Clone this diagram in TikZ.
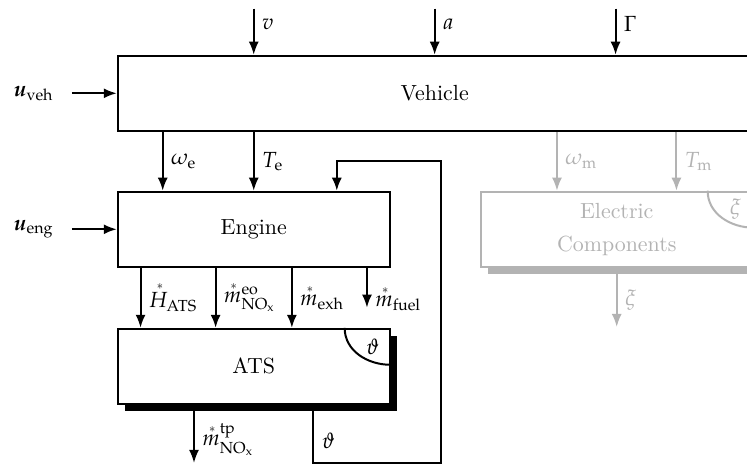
\documentclass[tikz,border=0pt,11pt]{standalone}
\usepackage{amsmath,amssymb}
\usepackage{accents}
\usepackage{mathpazo}
\usepackage{tikz}
\usetikzlibrary{arrows.meta,shadows}
\definecolor{elecgray}{RGB}{179,179,179}

\begin{document}
\begin{tikzpicture}[
    block/.style={draw,line width=1pt,fill=white,minimum width=4.78cm,minimum height=1.32cm},
    stateblock/.style={block,drop shadow={shadow xshift=0.13cm,shadow yshift=-0.13cm,opacity=1,fill=#1}},
    sig/.style={line width=1pt,-{Latex[length=6.5pt,width=5pt]}},
    wire/.style={line width=1pt}]
  \useasboundingbox (0,0) rectangle (13.13,8.15);
  \clip (0,0) rectangle (13.13,8.15);
  % blocks
  \node[draw,line width=1pt,minimum width=11.14cm,minimum height=1.32cm] (veh) at (7.64,6.51) {Vehicle};
  \node[block] (eng) at (4.46,4.12) {Engine};
  \node[stateblock=black] (ats) at (4.46,1.71) {ATS};
  \node[stateblock=elecgray,draw=elecgray,text=elecgray,align=center] (elec) at (10.84,4.12)
    {Electric\\[3pt]Components};
  % states in the corners
  \draw[wire] ([xshift=-0.81cm]ats.north east) to[out=-90,in=180] ([yshift=-0.65cm]ats.north east);
  \node (thetastate) at ([xshift=-0.32cm,yshift=-0.33cm]ats.north east) {$\vartheta$};
  \draw[wire,elecgray] ([xshift=-0.81cm]elec.north east) to[out=-90,in=180] ([yshift=-0.65cm]elec.north east);
  \node[elecgray] (xistate) at ([xshift=-0.32cm,yshift=-0.33cm]elec.north east) {$\xi$};
  % free ends
  \coordinate (vin) at ([xshift=-3.18cm,yshift=0.81cm]veh.north);
  \coordinate (ain) at ([yshift=0.81cm]veh.north);
  \coordinate (gammain) at ([xshift=3.18cm,yshift=0.81cm]veh.north);
  \coordinate (uvehin) at ([xshift=-0.79cm]veh.west);
  \coordinate (uengin) at ([xshift=-0.79cm]eng.west);
  \coordinate (fuelout) at ([xshift=1.99cm,yshift=-0.70cm]eng.south);
  \coordinate (tpout) at ([xshift=-1.05cm,yshift=-1.02cm]ats.south);
  \coordinate (xiout) at ([yshift=-1.04cm]elec.south);
  \coordinate (fblow) at ([xshift=1.05cm,yshift=-1.02cm]ats.south);
  \coordinate (fbcorner) at ([xshift=3.30cm,yshift=-1.02cm]ats.south);
  \coordinate (fbhigh) at ([xshift=1.46cm,yshift=0.53cm]eng.north);
  % inputs
  \draw[sig] (vin) -- node[pos=0.33,right] {$v$} (vin |- veh.north);
  \draw[sig] (ain) -- node[pos=0.33,right] {$a$} (veh.north);
  \draw[sig] (gammain) -- node[pos=0.33,right] {$\Gamma$} (gammain |- veh.north);
  \draw[sig] (uvehin) node[left=5pt] {$\boldsymbol{u}_{\mathrm{veh}}$} -- (veh.west);
  \draw[sig] (uengin) node[left=5pt] {$\boldsymbol{u}_{\mathrm{eng}}$} -- (eng.west);
  % vehicle to engine and electric components
  \draw[sig] ([xshift=-1.60cm]eng.north |- veh.south) -- node[right] {$\omega_{\mathrm{e}}$} ([xshift=-1.60cm]eng.north);
  \draw[sig] (eng.north |- veh.south) -- node[right] {$T_{\mathrm{e}}$} (eng.north);
  \draw[sig,elecgray] ([xshift=-1.05cm]elec.north |- veh.south) -- node[right] {$\omega_{\mathrm{m}}$} ([xshift=-1.05cm]elec.north);
  \draw[sig,elecgray] ([xshift=1.05cm]elec.north |- veh.south) -- node[right] {$T_{\mathrm{m}}$} ([xshift=1.05cm]elec.north);
  \draw[sig,elecgray] (elec.south) -- node[pos=0.54,right] {$\xi$} (xiout);
  % engine to ATS
  \draw[sig] ([xshift=-1.99cm]eng.south) -- node[right] {$\accentset{*}{H}_{\mathrm{ATS}}$} ([xshift=-1.99cm]ats.north);
  \draw[sig] ([xshift=-0.67cm]eng.south) -- node[right] {$\accentset{*}{m}^{\mathrm{eo}}_{\mathrm{NO_x}}$} ([xshift=-0.67cm]ats.north);
  \draw[sig] ([xshift=0.67cm]eng.south) -- node[right] {$\accentset{*}{m}_{\mathrm{exh}}$} ([xshift=0.67cm]ats.north);
  \draw[sig] (fuelout |- eng.south) -- node[pos=0.8,right] {$\accentset{*}{m}_{\mathrm{fuel}}$} (fuelout);
  % ATS outputs and temperature feedback
  \draw[sig] (tpout |- ats.south) -- node[pos=0.6,right] {$\accentset{*}{m}^{\mathrm{tp}}_{\mathrm{NO_x}}$} (tpout);
  \draw[sig] (fblow |- ats.south) -- node[pos=0.62,right] {$\vartheta$} (fblow) -- (fbcorner) |- (fbhigh) -- (fbhigh |- eng.north);
\end{tikzpicture}
\end{document}
